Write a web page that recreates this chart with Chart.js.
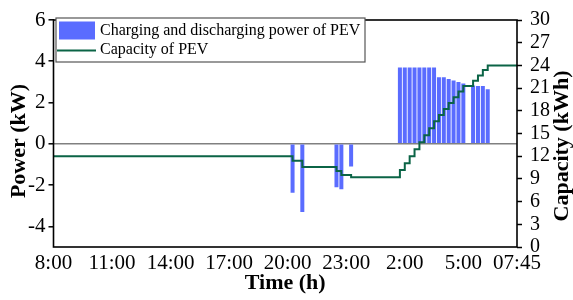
<!DOCTYPE html>
<html><head><meta charset="utf-8">
<script src="https://cdn.jsdelivr.net/npm/chart.js@4"></script>
<style>html,body{margin:0;padding:0;background:#fff}</style>
</head><body>
<canvas id="c" width="573" height="300"></canvas>
<script>
// ---- data (time slots are 15-min steps from 8:00) ----
const timeTickPositions = [0,12,24,36,48,60,72,84,95];
const timeTickLabels = ['8:00','11:00','14:00','17:00','20:00','23:00','2:00','5:00','07:45'];
const powerSlots = [49,51,58,59,61,71,72,73,74,75,76,77,78,79,80,81,82,83,84,86,87,88,89];
const powerValues = [-2.37,-3.3,-2.1,-2.2,-1.1,3.7,3.7,3.7,3.7,3.7,3.7,3.7,3.7,3.22,3.22,3.14,3.07,3.0,2.92,2.83,2.8,2.8,2.65];
const capacitySlots = [0,49,51,58,59,61,71,72,73,74,75,76,77,78,79,80,81,82,83,84,86,87,88,89,95];
const capacityValues = [12,11.4,10.58,10.05,9.5,9.23,10.16,11.08,12.0,12.93,13.85,14.78,15.7,16.63,17.43,18.24,19.02,19.79,20.54,21.27,21.98,22.68,23.38,24.0,24.0];
const powerTicks = [-4,-2,0,2,4,6];
const seriesLabels = ['Charging and discharging power of PEV','Capacity of PEV'];

const FONT = "'Liberation Serif','Times New Roman',serif";
const BAR_COLOR = '#5A6CFF';
const LINE_COLOR = '#0B6446';

const framePlugin = {
  id: 'frame',
  afterDraw(chart) {
    const {ctx, chartArea: a} = chart;
    ctx.save();
    ctx.strokeStyle = '#000';
    ctx.lineWidth = 1.6;
    ctx.strokeRect(a.left, a.top, a.right - a.left, a.bottom - a.top);
    ctx.fillStyle = '#000';
    ctx.font = "bold 22px " + FONT;
    ctx.textAlign = 'center';
    ctx.textBaseline = 'middle';
    ctx.save(); ctx.translate(19, 141); ctx.rotate(-Math.PI/2); ctx.fillText('Power (kW)', 0, 0); ctx.restore();
    ctx.save(); ctx.translate(562, 146); ctx.rotate(-Math.PI/2); ctx.fillText('Capacity (kWh)', 0, 0); ctx.restore();
    const lx = 56, ly = 18, lw = 309, lh = 44;
    ctx.fillStyle = '#fff';
    ctx.fillRect(lx, ly, lw, lh);
    ctx.strokeStyle = '#555';
    ctx.lineWidth = 1.2;
    ctx.strokeRect(lx, ly, lw, lh);
    const ds = chart.data.datasets;
    ctx.fillStyle = ds[0].backgroundColor;
    ctx.fillRect(59, 21.5, 36, 18);
    ctx.strokeStyle = ds[1].borderColor;
    ctx.lineWidth = 2;
    ctx.beginPath(); ctx.moveTo(57, 50.5); ctx.lineTo(96, 50.5); ctx.stroke();
    ctx.fillStyle = '#000';
    ctx.font = "16px " + FONT;
    ctx.textAlign = 'left';
    ctx.fillText(ds[0].label, 100, 30.5);
    ctx.fillText(ds[1].label, 100, 50);
    ctx.restore();
  }
};

new Chart(document.getElementById('c'), {
  type: 'bar',
  data: {
    datasets: [
      {
        type: 'bar',
        label: seriesLabels[0],
        data: powerSlots.map((s, i) => ({x: s, y: powerValues[i]})),
        backgroundColor: BAR_COLOR,
        borderWidth: 0,
        barPercentage: 0.82,
        categoryPercentage: 1,
        xAxisID: 'x', yAxisID: 'y',
        order: 1
      },
      {
        type: 'line',
        label: seriesLabels[1],
        data: capacitySlots.map((s, i) => ({x: s, y: capacityValues[i]})),
        borderColor: LINE_COLOR,
        borderWidth: 2,
        stepped: true,
        pointRadius: 0,
        fill: false,
        xAxisID: 'x', yAxisID: 'y2',
        order: 0
      }
    ]
  },
  options: {
    responsive: false,
    animation: false,
    devicePixelRatio: 1,
    layout: {padding: {top: 15, left: 0, right: 0, bottom: 0}},
    plugins: {legend: {display: false}, tooltip: {enabled: false}},
    scales: {
      x: {
        type: 'linear', min: 0, max: 95, offset: false,
        afterBuildTicks: s => { s.ticks = timeTickPositions.map(v => ({value: v})); },
        afterFit: s => { s.height = 53; },
        grid: {display: false, drawTicks: false},
        border: {display: false},
        ticks: {
          autoSkip: false, maxRotation: 0, minRotation: 0, padding: 4, color: '#000',
          font: {family: FONT, size: 21},
          callback: v => timeTickLabels[timeTickPositions.indexOf(v)]
        },
        title: {display: true, text: 'Time (h)', color: '#000', font: {family: FONT, size: 22, weight: 'bold'}, padding: {top: 0, bottom: 3}}
      },
      y: {
        type: 'linear', position: 'left', min: -5, max: 6,
        afterBuildTicks: s => { s.ticks = powerTicks.map(v => ({value: v})); },
        afterFit: s => { s.width = 53.5; },
        grid: {
          drawTicks: true, tickLength: 5, tickColor: '#000', tickWidth: 1.5,
          color: c => (c.tick && c.tick.value === 0) ? '#808080' : 'rgba(0,0,0,0)',
          lineWidth: 1.6
        },
        border: {display: false},
        ticks: {autoSkip: false, padding: 3, color: '#000', font: {family: FONT, size: 21}}
      },
      y2: {
        type: 'linear', position: 'right', min: 0, max: 30,
        afterFit: s => { s.width = 573 - 517; },
        grid: {drawOnChartArea: false, drawTicks: true, tickLength: 5, tickColor: '#000', tickWidth: 1.5},
        border: {display: false},
        ticks: {stepSize: 3, autoSkip: false, padding: 8, color: '#000', font: {family: FONT, size: 20}}
      }
    }
  },
  plugins: [framePlugin]
});
</script>
</body></html>
